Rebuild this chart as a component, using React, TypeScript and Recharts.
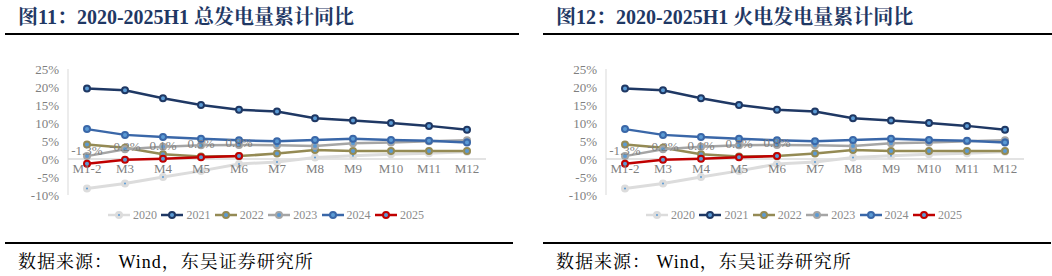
import React from 'react';
import { LineChart, Line, XAxis, YAxis, ReferenceLine, LabelList } from 'recharts';

const months = ['M1-2', 'M3', 'M4', 'M5', 'M6', 'M7', 'M8', 'M9', 'M10', 'M11', 'M12'];
const y2020 = [-8.2, -6.8, -5.0, -3.3, -1.4, -0.8, 0.4, 0.9, 1.3, 1.6, 2.0];
const y2021 = [19.6, 19.1, 16.9, 15.0, 13.7, 13.2, 11.3, 10.7, 10.0, 9.2, 8.1];
const y2022 = [4.0, 3.1, 1.3, 0.7, 0.8, 1.5, 2.5, 2.2, 2.2, 2.2, 2.2];
const y2023 = [0.8, 2.7, 3.4, 3.8, 3.9, 3.8, 3.6, 4.4, 4.6, 4.9, 5.2];
const y2024 = [8.3, 6.7, 6.1, 5.6, 5.2, 4.9, 5.3, 5.6, 5.3, 5.1, 4.6];
const y2025 = [-1.3, -0.2, 0.1, 0.5, 0.8];
const yTicks = [-10, -5, 0, 5, 10, 15, 20, 25];

const titles = ['图11：2020-2025H1 总发电量累计同比', '图12：2020-2025H1 火电发电量累计同比'];
const source = '数据来源： Wind，东吴证券研究所';

const series = [
  { key: 'y2020', name: '2020', values: y2020, color: '#dcdcdc' },
  { key: 'y2021', name: '2021', values: y2021, color: '#1f3864' },
  { key: 'y2022', name: '2022', values: y2022, color: '#948a54' },
  { key: 'y2023', name: '2023', values: y2023, color: '#a5a5a5' },
  { key: 'y2024', name: '2024', values: y2024, color: '#3a67a8' },
  { key: 'y2025', name: '2025', values: y2025, color: '#c00000' },
];

const data = months.map((m, i) => {
  const row: Record<string, string | number | null> = { month: m };
  series.forEach((s) => {
    row[s.key] = i < s.values.length ? s.values[i] : null;
  });
  return row;
});

const serif = '"Times New Roman", "Liberation Serif", "Noto Serif CJK SC", "Noto Sans CJK SC", serif';
const markerFill = '#5b9bd5';

const XTick = (props: any) => {
  const { x, y, payload } = props;
  return (
    <text x={x} y={y - 31} dy="0.71em" textAnchor="middle" fill="#7f7f7f" fontSize={13} fontFamily={serif}>
      {payload.value}
    </text>
  );
};

const LegendRow = () => (
  <div style={{ position: 'absolute', left: 108, top: 208, display: 'flex', fontFamily: serif, fontSize: 12, color: '#8c8c8c' }}>
    {series.map((s) => (
      <div key={s.key} style={{ display: 'flex', alignItems: 'center', width: 53.4 }}>
        <svg width={22} height={12}>
          <line x1={0} y1={6} x2={22} y2={6} stroke={s.color} strokeWidth={2.5} />
          <circle cx={11} cy={6} r={s.key === 'y2020' ? 2.5 : 3} fill={markerFill} stroke={s.color} strokeWidth={s.key === 'y2020' ? 3 : 2} />
        </svg>
        <span style={{ marginLeft: 3, lineHeight: '14px' }}>{s.name}</span>
      </div>
    ))}
  </div>
);

const Panel = ({ left, title }: { left: number; title: string }) => (
  <div style={{ position: 'absolute', left, top: 0, width: 520, height: 276 }}>
    <div style={{ position: 'absolute', left: 18, top: 5, fontFamily: serif, fontWeight: 'bold', fontSize: 20, lineHeight: '24px', color: '#1f3864', whiteSpace: 'nowrap' }}>
      {title}
    </div>
    <div style={{ position: 'absolute', left: 5, top: 33, width: 514, height: 2, background: '#000' }} />
    <div style={{ position: 'absolute', left: 0, top: 0 }}>
      <LineChart width={520} height={220} data={data} margin={{ top: 69, right: 34, bottom: 5, left: 18 }}>
        <YAxis
          domain={[-10, 25]}
          ticks={yTicks}
          interval={0}
          width={50}
          tickFormatter={(v: number) => `${v}%`}
          axisLine={{ stroke: '#d9d9d9' }}
          tickLine={false}
          tickSize={0}
          tickMargin={9}
          tick={{ fill: '#7f7f7f', fontSize: 13, fontFamily: serif }}
        />
        <XAxis
          dataKey="month"
          height={20}
          padding={{ left: 19, right: 19 }}
          axisLine={false}
          tickLine={false}
          tickSize={0}
          tickMargin={0}
          tick={<XTick />}
          interval={0}
        />
        <ReferenceLine y={0} stroke="#e3e3e3" strokeWidth={2} />
        <Line dataKey="y2025" stroke="none" dot={false} isAnimationActive={false} legendType="none">
          <LabelList
            dataKey="y2025"
            position="top"
            offset={9}
            fill="#7f7f7f"
            fontSize={13}
            fontFamily={serif}
            formatter={(v: any) => (v == null ? '' : `${Number(v).toFixed(1)}%`)}
          />
        </Line>
        {series.map((s) => (
          <Line
            key={s.key}
            dataKey={s.key}
            name={s.name}
            stroke={s.color}
            strokeWidth={s.key === 'y2020' ? 3 : 2.5}
            dot={{ r: s.key === 'y2020' ? 2.5 : 3, fill: markerFill, stroke: s.color, strokeWidth: s.key === 'y2020' ? 3 : 2 }}
            activeDot={false}
            connectNulls={false}
            isAnimationActive={false}
          />
        ))}
      </LineChart>
    </div>
    <LegendRow />
    <div style={{ position: 'absolute', left: 5, top: 242, width: 508, height: 2, background: '#000' }} />
    <div style={{ position: 'absolute', left: 18, top: 251, fontFamily: serif, fontSize: 18, letterSpacing: 1, lineHeight: '22px', color: '#000', whiteSpace: 'pre' }}>
      {source}
    </div>
  </div>
);

export default function App() {
  return (
    <div style={{ position: 'absolute', left: 0, top: 0, width: 1052, height: 276, background: '#fff', overflow: 'hidden' }}>
      <Panel left={0} title={titles[0]} />
      <Panel left={538} title={titles[1]} />
    </div>
  );
}
